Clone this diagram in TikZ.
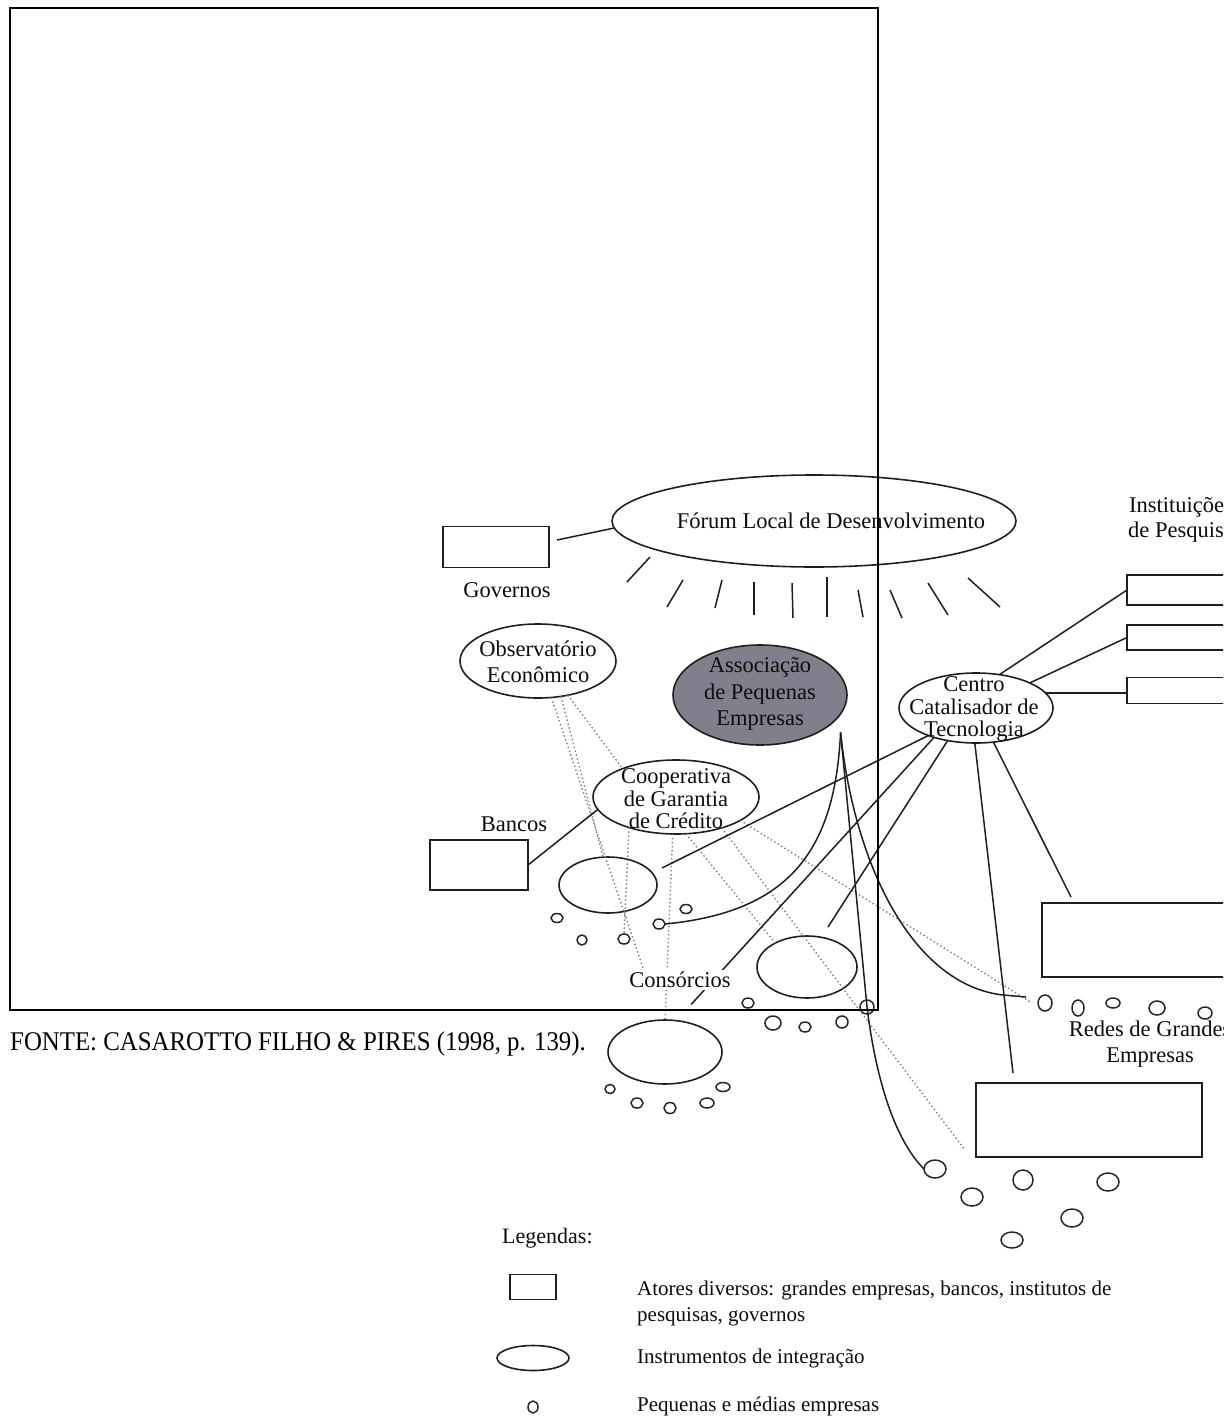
\documentclass[tikz,border=0pt]{standalone}
\usepackage{fontspec}
\setmainfont{Liberation Serif}
\usetikzlibrary{shapes.geometric,calc}

\newcommand\diagfont{\fontsize{22.5}{22.5}\selectfont}
\newcommand\legfont{\fontsize{21}{26}\selectfont}
\newcommand\capfont{\fontsize{27}{30}\selectfont}

\tikzset{
  ink/.style={line width=1.6pt, draw=black!88},
  actor/.style={rectangle, ink, fill=white, inner sep=0pt, outer sep=0pt},
  instr/.style={ellipse, ink, inner sep=0pt, outer sep=0pt},
  sme/.style args={#1/#2}{ellipse, draw=black!85, line width=1.5pt, inner sep=0pt,
    outer sep=0pt, minimum width=#1pt, minimum height=#2pt},
  link/.style={line width=1.5pt, draw=black!88},
  dots/.style={line width=1.4pt, draw=black!50, dash pattern=on 1.4pt off 2.6pt},
  lbl/.style={font=\diagfont, align=center, inner sep=0pt, text=black!95},
  legtxt/.style={font=\legfont, inner sep=0pt, text=black!95},
}

\begin{document}
\begin{tikzpicture}[x=1pt,y=-1pt]
\useasboundingbox (0,0) rectangle (1223,1423);
\fill[white] (0,0) rectangle (1223,1423);
\clip (0,0) rectangle (1223,1423);

% ---------- integration instruments (ellipses) ----------
\node[instr, minimum width=404pt, minimum height=92pt] (forum) at (814,521) {};
\node[instr, minimum width=156pt, minimum height=74pt] (obs) at (538,661) {};
\node[instr, minimum width=174pt, minimum height=100pt,
      fill={rgb,255:red,128;green,128;blue,140}] (asso) at (760,695) {};
\node[instr, minimum width=154pt, minimum height=70pt] (centro) at (976,708) {};
\node[instr, minimum width=166pt, minimum height=74pt] (coop) at (676,797) {};
\node[instr, minimum width=98pt, minimum height=56pt] (e1) at (608,885) {};
\node[instr, minimum width=100pt, minimum height=62pt] (e2) at (807,967) {};
\node[instr, minimum width=114pt, minimum height=64pt] (e3) at (665,1052) {};

% ---------- actors (rectangles) ----------
\node[actor, minimum width=106pt, minimum height=41pt] (gov) at (496,547) {};
\node[actor, minimum width=98pt, minimum height=50pt] (bancos) at (479,865) {};
\node[actor, minimum width=172pt, minimum height=30pt] (r1) at (1213,590) {};
\node[actor, minimum width=172pt, minimum height=25pt] (r2) at (1213,637.5) {};
\node[actor, minimum width=172pt, minimum height=26pt] (r3) at (1213,690.5) {};
\node[actor, minimum width=218pt, minimum height=74pt] (redes) at (1151,940) {};
\node[actor, minimum width=226pt, minimum height=74pt] (lowrect) at (1089,1120) {};

% ---------- small and medium firms ----------
\node[sme=12/9]  (e1c1) at (557,918) {};
\node[sme=10/10] (e1c2) at (582,940) {};
\node[sme=12/10] (e1c3) at (624,939) {};
\node[sme=12/10] (e1c4) at (659,924) {};
\node[sme=12/9]  (e1c5) at (686,909) {};
\node[sme=12/10] (e2c1) at (748,1003) {};
\node[sme=16/14] (e2c2) at (773,1023) {};
\node[sme=12/10] (e2c3) at (805,1027) {};
\node[sme=12/12] (e2c4) at (842,1022) {};
\node[sme=14/14] (e2c5) at (867,1007) {};
\node[sme=10/9]  (e3c1) at (610,1089) {};
\node[sme=12/10] (e3c2) at (637,1103) {};
\node[sme=12/11] (e3c3) at (670,1108) {};
\node[sme=14/10] (e3c4) at (707,1103) {};
\node[sme=14/9]  (e3c5) at (723,1087) {};
\node[sme=14/16] (rc1) at (1045,1003) {};
\node[sme=12/16] (rc2) at (1078,1008) {};
\node[sme=14/10] (rc3) at (1113,1003) {};
\node[sme=16/14] (rc4) at (1157,1008) {};
\node[sme=14/12] (rc5) at (1205,1013) {};
\node[sme=22/18] (lc1) at (935,1169) {};
\node[sme=22/18] (lc2) at (972,1197) {};
\node[sme=20/20] (lc3) at (1023,1180) {};
\node[sme=22/18] (lc4) at (1108,1182) {};
\node[sme=22/18] (lc5) at (1072,1218) {};
\node[sme=22/16] (lc6) at (1012,1240) {};

% ---------- free ends ----------
\coordinate (c1end) at (662,868);
\coordinate (c3end) at (828,927);
\coordinate (o1end) at (643,968);
\coordinate (afoot) at ([xshift=13pt,yshift=-6pt]asso.-25);

% ---------- dotted links ----------
\draw[dots] (obs.-70) -- (o1end);
\draw[dots] (obs.-57) -- (e1.100);
\draw[dots] (obs.-49) -- (coop.152);
\draw[dots] (coop.-147) -- (e1c3.north);
\draw[dots] (coop.-95) -- (e3.north);
\draw[dots] (coop.-75) -- (e2.143);
\draw[dots] (coop.-34) -- ([xshift=-11pt,yshift=7pt]lowrect.south west);
\draw[dots] (coop.-20) -- ([xshift=-6pt]rc1.west);

% ---------- solid links ----------
\draw[link] ([xshift=8pt,yshift=7pt]gov.east) -- (forum.182);
\draw[link] (bancos.east) -- (coop.189);
\draw[link] (centro.55) -- (r1.west);
\draw[link] (centro.25) -- (r2.west);
\draw[link] (centro.12) -- (centro.12 -| r3.west);
\draw[link] (centro.-150) -- (c1end);
\draw[link, shorten >=22pt] (centro.-145) -- (e3.70);
\draw[link] (centro.-131) -- (c3end);
\draw[link] (centro.-92) -- ([xshift=37pt,yshift=10pt]lowrect.north west);
\draw[link] (centro.-63) -- ([xshift=29pt,yshift=6pt]redes.north west);

\draw[link] (afoot) .. controls (835,850) and (790,912) .. (e1c4.east);
\draw[link] (afoot) -- (e2c5.center)
   .. controls (876,1080) and (895,1140) .. (lc1.west);
\draw[link] (afoot) .. controls (855,870) and (915,985) .. (1003,995)
   -- ([xshift=-12pt,yshift=6pt]rc1.west);

% rays under the forum
\foreach \xa/\ya/\xb/\yb in {650/557/627/582, 683/580/667/607, 722/580/715/608,
    754/582/754/615, 792/583/793/618, 827/577/827/617, 858/590/863/617,
    890/590/902/618, 928/583/948/615, 968/578/1000/607}
  \draw[link] (\xa,\ya) -- (\xb,\yb);

% ---------- labels ----------
\node[lbl] (forumtxt) at (831,521) {Fórum Local de Desenvolvimento};
\node[lbl] (govtxt) at (507,590) {Governos};
\node[lbl] (obstxt) at (538,662) {Observatório\\[3pt]Econômico};
\node[lbl] (assotxt) at (760,694) {Associação\\[4pt]de Pequenas\\[4pt]Empresas};
\node[lbl] (centrotxt) at (974,709) {Centro\\Catalisador de\\Tecnologia};
\node[lbl] (cooptxt) at (676,799) {Cooperativa\\de Garantia\\de Crédito};
\node[lbl] (bancostxt) at (514,824) {Bancos};
\node[lbl, fill=white, inner sep=2pt] (constxt) at (680,980) {Consórcios};
\node[lbl] (insttxt) at (1181,520) {Instituições\\[2pt]de Pesquisa};
\node[lbl] (redestxt) at (1150,1044) {Redes de Grandes\\[4pt]Empresas};

% ---------- legend ----------
\node[legtxt, font=\fontsize{22}{26}\selectfont, anchor=base west] (legtitle) at (502,1243) {Legendas:};
\node[actor, minimum width=46pt, minimum height=25pt] (lrect) at (533,1287) {};
\node[legtxt, anchor=base west] (ltxta) at (637,1295) {Atores diversos: grandes empresas, bancos, institutos de};
\node[legtxt, anchor=base west] (ltxtb) at (637,1321) {pesquisas, governos};
\node[instr, minimum width=72pt, minimum height=25pt] (lell) at (533,1358) {};
\node[legtxt, anchor=base west] (ltxtc) at (637,1363) {Instrumentos de integração};
\node[sme=10/12] (lcirc) at (533,1407) {};
\node[legtxt, anchor=base west] (ltxtd) at (637,1411) {Pequenas e médias empresas};

% ---------- frame and source line ----------
\draw[line width=1.2pt, black] (10,8) rectangle (878,1010);
\node[font=\capfont, inner sep=0pt, anchor=base west] (fonte) at (10,1050)
  {\scalebox{0.92}[1]{FONTE: CASAROTTO FILHO \& PIRES (1998, p. 139).}};
\end{tikzpicture}
\end{document}
